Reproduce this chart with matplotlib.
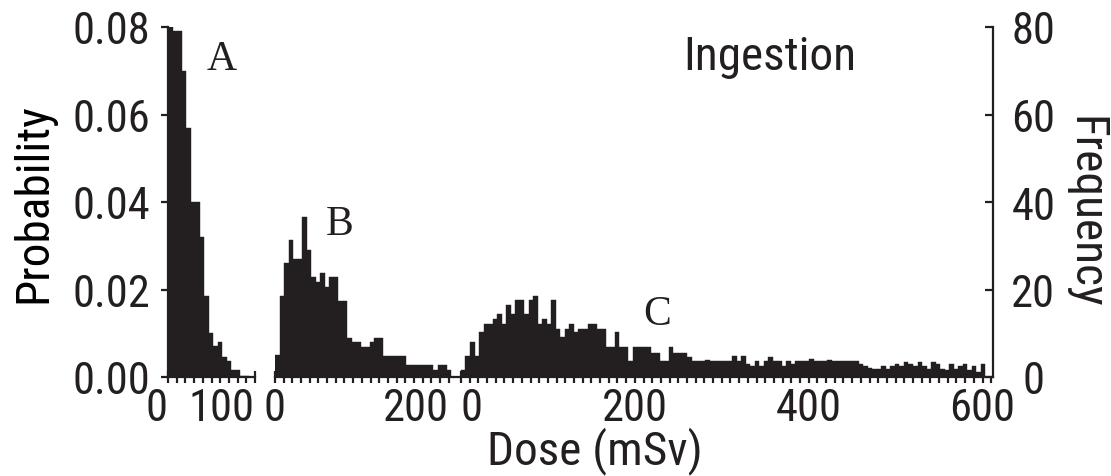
import numpy as np
import matplotlib
matplotlib.use("Agg")
import matplotlib.pyplot as plt
from matplotlib.ticker import MultipleLocator
from matplotlib import font_manager

# ---------------- data (frequency per bin) ----------------
bin_width = 5.2  # mSv

freq_A = [80, 79, 79, 70, 57, 40, 40, 32, 18.5, 10, 7, 8, 4.6, 3.6, 1.5, 1.5, 0.3, 0.3]

freq_B = [5, 18.5, 26, 31.4, 27, 27, 36.6, 29, 22.8, 21.7, 23.8, 20.5, 22.8, 22.8,
          17.3, 17.3, 8.9, 7.9, 7.9, 6.8, 6.8, 7.9, 8.9, 8.9, 4.9, 4.9, 4.9, 4.9,
          4.9, 2.8, 2.8, 2.8, 2.8, 2.8, 2.8, 1.7, 2.8, 2.8, 1.7]

freq_C = [1.7, 4.9, 8.1, 4.9, 10.2, 12.1, 12.1, 13.3, 14.4, 12.1, 16.5, 14.4, 17.5, 17.5,
          14.4, 17.5, 18.6, 12.1, 13.3, 12.1, 17.5, 11, 9.1, 11, 12.1, 10.2, 11, 11,
          12.1, 12.1, 11, 11, 6.8, 6.8, 10.2, 6.8, 6.8, 3.7, 6.8, 6.8, 6.8, 6.8, 5.6,
          5.6, 3.7, 3.7, 6.8, 5.6, 5.6, 5.6, 4.5, 3.7, 3.7, 3.7, 4.0, 3.7, 3.7, 3.7,
          3.7, 3.7, 4.7, 3.7, 4.7, 3.0, 2.5, 3.7, 2.5, 3.7, 4.5, 3.7, 3.7, 2.5, 3.7,
          3.0, 3.7, 3.7, 3.7, 4.2, 3.7, 3.7, 3.7, 4.0, 3.7, 3.7, 3.7, 3.7, 3.7, 3.7,
          3.0, 2.5, 2.0, 1.8, 1.8, 2.5, 1.8, 2.5, 3.0, 2.5, 3.4, 3.0, 2.5, 3.4, 2.5,
          1.8, 3.4, 3.0, 1.8, 1.5, 3.0, 1.8, 2.5, 3.0, 1.5, 2.5, 1.2, 3.0]

prob_ticks = [0.00, 0.02, 0.04, 0.06, 0.08]
prob_labels = ["0.00", "0.02", "0.04", "0.06", "0.08"]
freq_ticks = [0, 20, 40, 60, 80]
ticks_A = [0, 100]
ticks_B = [0, 200]
ticks_C = [0, 200, 400, 600]
panel_letters = ["A", "B", "C"]

# ---------------- style ----------------
INK = "#231f20"
installed = {f.name for f in font_manager.fontManager.ttflist}
FONT = next((f for f in ["Liberation Sans Narrow", "Roboto Condensed", "Liberation Sans"]
             if f in installed), "DejaVu Sans")
FS_TICK = 32
FS_LAB = 34
plt.rcParams["font.family"] = [FONT, "DejaVu Sans"]
plt.rcParams["axes.linewidth"] = 1.6
plt.rcParams["text.color"] = INK
plt.rcParams["xtick.color"] = INK
plt.rcParams["ytick.color"] = INK

W, H = 1111, 477
fig = plt.figure(figsize=(W / 100, H / 100), dpi=100)
fig.patch.set_facecolor("white")

def px_axes(x0, x1, y_top=28, y_bot=378):
    return fig.add_axes([x0 / W, (H - y_bot) / H, (x1 - x0) / W, (y_bot - y_top) / H])

ax_a = px_axes(168, 255)
ax_b = px_axes(275, 453)
ax_c = px_axes(454, 993)

def draw(ax, freq, xlim, ticks):
    f = np.asarray(freq, dtype=float)
    edges = np.arange(len(f)) * bin_width
    ax.bar(edges, f / 1000.0, width=bin_width, align="edge", color=INK,
           edgecolor=INK, linewidth=0.3)
    ax.set_xlim(*xlim)
    ax.set_ylim(0, 0.08)
    for s in ("top", "right", "left"):
        ax.spines[s].set_visible(False)
    ax.spines["bottom"].set_color(INK)
    ax.set_xticks(ticks)
    ax.xaxis.set_minor_locator(MultipleLocator(10))
    ax.tick_params(axis="x", which="major", direction="inout", length=9, width=1.6,
                   labelsize=FS_TICK, pad=3)
    ax.tick_params(axis="x", which="minor", direction="out", length=4, width=1.6)
    ax.set_yticks([])
    ax.patch.set_alpha(0)

draw(ax_a, freq_A, (0, 100), ticks_A)
draw(ax_b, freq_B, (0, 205), ticks_B)
draw(ax_c, freq_C, (-8, 612), ticks_C)

# left probability axis
ax_a.spines["left"].set_visible(True)
ax_a.spines["left"].set_color(INK)
ax_a.set_yticks(prob_ticks)
ax_a.set_yticklabels(prob_labels)
ax_a.tick_params(axis="y", direction="out", length=5, width=1.6, labelsize=FS_TICK, pad=8)
ax_a.set_ylabel("Probability", fontsize=FS_LAB, labelpad=12)

# alignment of the crowded x tick labels
la = ax_a.get_xticklabels()
la[0].set_horizontalalignment("right")
la[-1].set_horizontalalignment("right")
lb = ax_b.get_xticklabels()
lb[-1].set_horizontalalignment("right")
lc = ax_c.get_xticklabels()
lc[0].set_horizontalalignment("left")

# right frequency axis
ax_f = ax_c.twinx()
ax_f.set_ylim(0, 80)
for s in ("top", "left", "bottom"):
    ax_f.spines[s].set_visible(False)
ax_f.spines["right"].set_color(INK)
ax_f.set_yticks(freq_ticks)
ax_f.tick_params(axis="y", direction="in", length=6, width=1.6, labelsize=FS_TICK, pad=29)
for lab in ax_f.get_yticklabels():
    lab.set_horizontalalignment("center")

# common x label and annotations
fig.text(1085 / W, 1 - 212 / H, "Frequency", fontsize=FS_LAB, rotation=270,
         ha="center", va="center")
fig.text(595 / W, 1 - 451 / H, "Dose (mSv)", fontsize=FS_LAB, ha="center", va="center")
fig.text(770 / W, 1 - 57 / H, "Ingestion", fontsize=FS_LAB, ha="center", va="center")
letter_pos = [(222, 60), (340, 225), (657, 315)]
for lab, (x, y) in zip(panel_letters, letter_pos):
    fig.text(x / W, 1 - y / H, lab, fontsize=30, ha="center", va="center",
             family=["Liberation Serif", "DejaVu Serif"])

fig.savefig("out.png", dpi=100, facecolor="white")
